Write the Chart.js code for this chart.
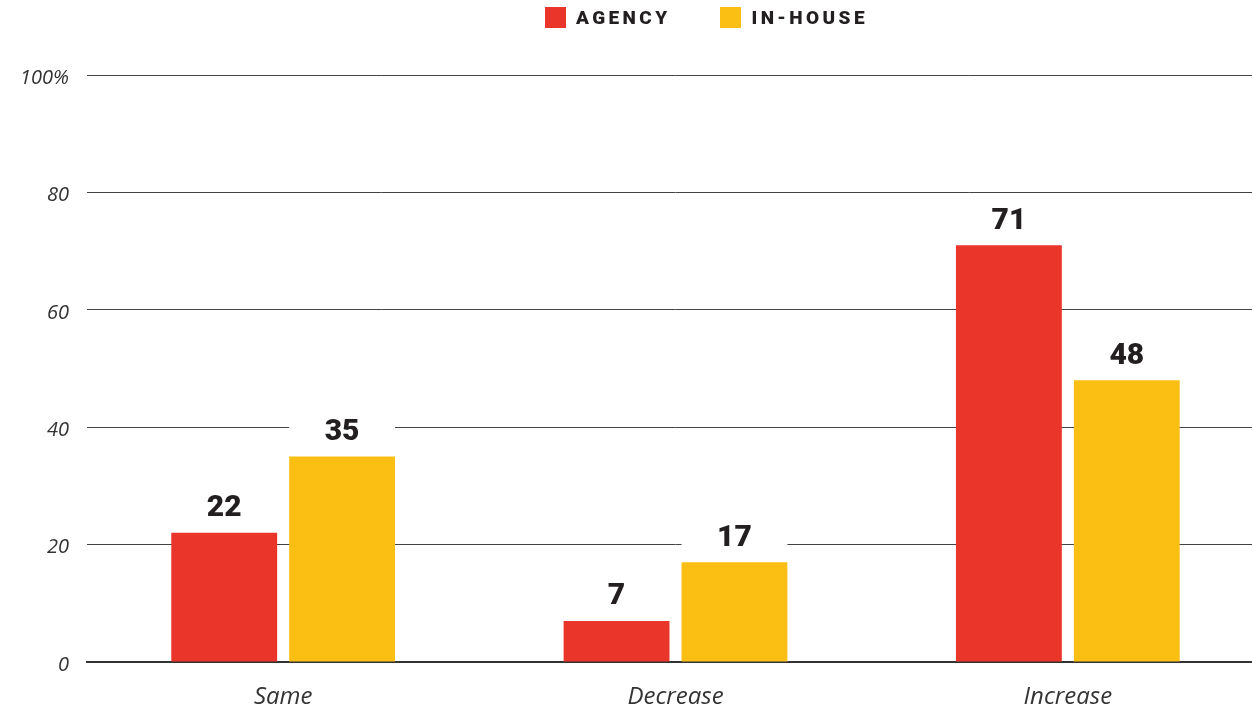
<!DOCTYPE html>
<html>
<head>
<meta charset="utf-8">
<script src="https://cdn.jsdelivr.net/npm/chart.js@4"></script>
<style>
  html, body { margin: 0; padding: 0; background: #fff; overflow: hidden; }
  #wrap { position: absolute; left: 0; top: 0; width: 1264px; height: 710px; }
  #legend { position: absolute; top: 6px; left: 545px; display: flex; align-items: center; font-family: Roboto, sans-serif; font-weight: 900; font-size: 19px; letter-spacing: 3.4px; color: #231f20; line-height: 23px; }
  .item { display: flex; align-items: center; }
  .sw { width: 21px; height: 21px; margin-right: 10px; }
</style>
</head>
<body>
<div id="wrap"><canvas id="c"></canvas></div>
<div id="legend"></div>
<script>
const categories = ["Same", "Decrease", "Increase"];
const seriesNames = ["AGENCY", "IN-HOUSE"];
const agency = [22, 7, 71];
const inHouse = [35, 17, 48];
const yTicks = [0, 20, 40, 60, 80, 100];
const colors = ["#E9352A", "#FBBF14"];

// HTML legend
const lg = document.getElementById('legend');
seriesNames.forEach((n, i) => {
  const it = document.createElement('div');
  it.className = 'item';
  if (i > 0) it.style.marginLeft = '50px';
  it.innerHTML = '<div class="sw" style="background:' + colors[i] + '"></div><span>' + n + '</span>';
  lg.appendChild(it);
});

const valueLabels = {
  id: 'valueLabels',
  afterDatasetsDraw(chart) {
    const ctx = chart.ctx;
    ctx.save();
    chart.data.datasets.forEach((ds, di) => {
      const meta = chart.getDatasetMeta(di);
      meta.data.forEach((bar, i) => {
        const w = bar.width;
        const top = bar.y;
        ctx.fillStyle = '#ffffff';
        ctx.fillRect(bar.x - w / 2, top - 46, w, 40);
        ctx.fillStyle = '#231f20';
        ctx.font = '900 30px Roboto, sans-serif';
        ctx.textAlign = 'center';
        ctx.textBaseline = 'middle';
        ctx.fillText(String(ds.data[i]), bar.x, top - 24);
      });
    });
    ctx.restore();
  }
};

new Chart(document.getElementById('c'), {
  type: 'bar',
  data: {
    labels: categories,
    datasets: [
      { label: seriesNames[0], data: agency, backgroundColor: colors[0], categoryPercentage: 0.601, barPercentage: 0.898 },
      { label: seriesNames[1], data: inHouse, backgroundColor: colors[1], categoryPercentage: 0.601, barPercentage: 0.898 }
    ]
  },
  options: {
    responsive: true,
    maintainAspectRatio: false,
    animation: false,
    layout: { padding: { top: 75, right: 0, left: 0, bottom: 0 } },
    plugins: { legend: { display: false }, tooltip: { enabled: false } },
    scales: {
      x: {
        afterFit(s) { s.height = 48; },
        grid: { display: false, drawTicks: false },
        border: { display: true, color: '#333', width: 2 },
        ticks: { color: '#333', padding: 21, font: { family: 'Open Sans', style: 'italic', size: 24, weight: 400 } }
      },
      y: {
        min: 0, max: 100,
        afterBuildTicks(s) { s.ticks = yTicks.map(v => ({ value: v })); },
        afterFit(s) { s.width = 87; },
        grid: { color: '#444', lineWidth: 1, drawTicks: false },
        border: { display: false },
        ticks: {
          padding: 18,
          labelOffset: 3,
          color: '#333',
          font: { family: 'Open Sans', style: 'italic', size: 20, weight: 400 },
          callback: (v) => v === 100 ? '100%' : String(v)
        }
      }
    }
  },
  plugins: [valueLabels]
});
</script>
</body>
</html>
